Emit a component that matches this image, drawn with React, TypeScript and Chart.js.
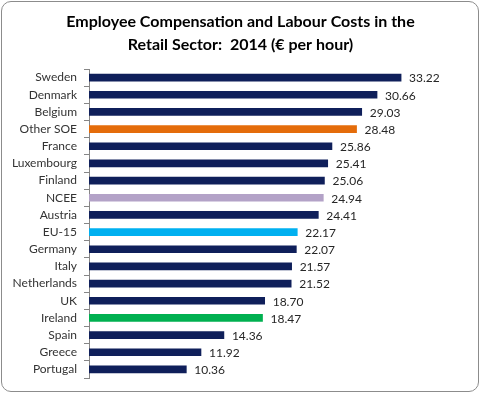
import React, { useEffect, useRef } from "react";
import { Chart, registerables } from "chart.js";

Chart.register(...registerables);

const categories = [
  "Sweden", "Denmark", "Belgium", "Other SOE", "France", "Luxembourg", "Finland", "NCEE", "Austria",
  "EU-15", "Germany", "Italy", "Netherlands", "UK", "Ireland", "Spain", "Greece", "Portugal",
];
const values = [33.22, 30.66, 29.03, 28.48, 25.86, 25.41, 25.06, 24.94, 24.41, 22.17, 22.07, 21.57, 21.52, 18.7, 18.47, 14.36, 11.92, 10.36];

const NAVY = "#0F1F5A";
const highlightColors: Record<string, string> = {
  "Other SOE": "#E46C0A",
  NCEE: "#B3A2C7",
  "EU-15": "#00B0F0",
  Ireland: "#00B050",
};
const titleLines = ["Employee Compensation and Labour Costs in the", "Retail Sector:  2014 (\u20ac per hour)"];

const FONT = "Lato, 'Open Sans', sans-serif";

const valueLabels = {
  id: "valueLabels",
  afterDatasetsDraw(chart: any) {
    const ctx = chart.ctx;
    const meta = chart.getDatasetMeta(0);
    ctx.save();
    ctx.font = `12px ${FONT}`;
    ctx.fillStyle = "#262626";
    ctx.textBaseline = "middle";
    ctx.textAlign = "left";
    meta.data.forEach((bar: any, i: number) => {
      ctx.fillText(values[i].toFixed(2), bar.x + 8, bar.y + 1);
    });
    ctx.restore();
  },
};

export default function App() {
  const ref = useRef<HTMLCanvasElement | null>(null);
  useEffect(() => {
    document.body.style.margin = "0";
    const chart = new Chart(ref.current!, {
      type: "bar",
      data: {
        labels: categories,
        datasets: [
          {
            data: values,
            backgroundColor: categories.map((c) => highlightColors[c] || NAVY),
            barThickness: 7,
          },
        ],
      },
      options: {
        indexAxis: "y",
        animation: false,
        responsive: false,
        maintainAspectRatio: false,
        layout: { padding: { left: 4, right: 4, top: 0, bottom: 17 } },
        plugins: {
          legend: { display: false },
          tooltip: { enabled: false },
          title: {
            display: true,
            text: titleLines,
            color: "#000",
            font: { family: FONT, size: 16, weight: "bold", lineHeight: 1.45 },
            padding: { top: 10, bottom: 12.6 },
          },
        },
        scales: {
          x: { display: false, min: 0, max: 41.3 },
          y: {
            afterFit: (scale: any) => {
              scale.width = 85;
            },
            border: { display: true, color: "#868686", width: 1 },
            grid: { display: true, drawOnChartArea: false, drawTicks: true, tickLength: 5, color: "#868686", offset: true },
            ticks: { color: "#333333", font: { family: FONT, size: 12 }, padding: 7, autoSkip: false },
          },
        },
      },
      plugins: [valueLabels],
    });
    return () => chart.destroy();
  }, []);
  return (
    <div style={{ position: "relative", width: 481, height: 395, background: "#fff" }}>
      <canvas ref={ref} width={481} height={395} style={{ position: "absolute", left: 0, top: 0 }} />
      <div
        style={{
          position: "absolute",
          left: 1,
          top: 1,
          width: 478,
          height: 391,
          boxSizing: "border-box",
          border: "1px solid #8c8c8c",
          borderRadius: 10,
          pointerEvents: "none",
        }}
      />
    </div>
  );
}
